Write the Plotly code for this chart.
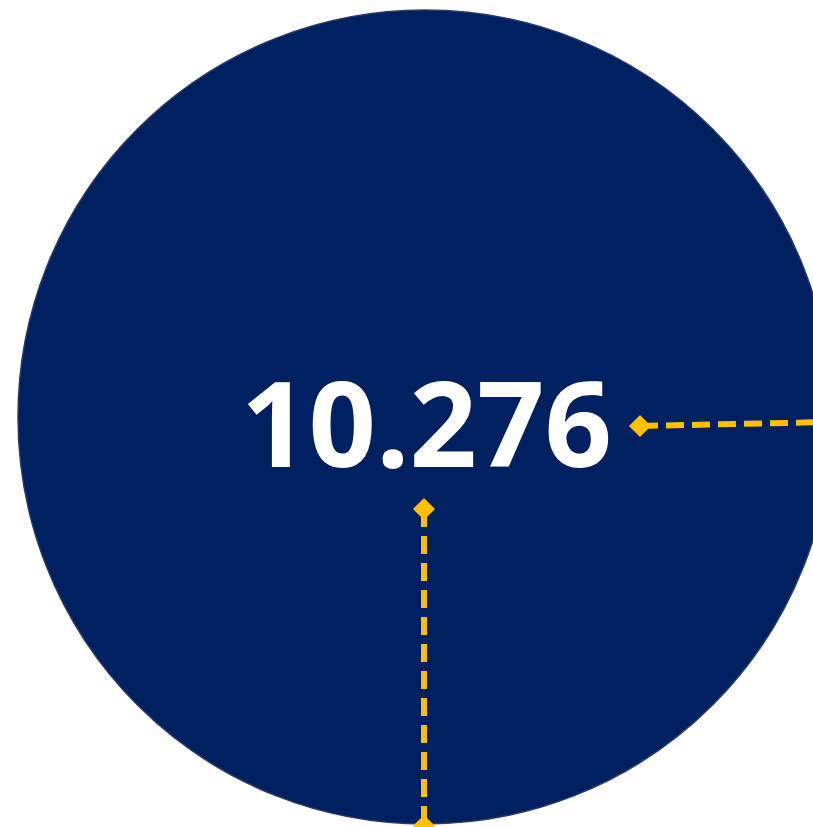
import plotly.graph_objects as go

# value shown in the bubble
value_label = "10.276"

# circle (pixel space, y downwards)
circle_center = [425, 417]
circle_radius = 407

# connector lines
h_line_x = [640, 830]
h_line_y = [426, 422]
v_line_x = [424, 424]
v_line_y = [509, 826]

navy = "#002060"
gold = "#FFC000"

fig = go.Figure()

fig.add_shape(type="circle",
              x0=circle_center[0] - circle_radius, x1=circle_center[0] + circle_radius,
              y0=circle_center[1] - circle_radius, y1=circle_center[1] + circle_radius,
              fillcolor=navy, line=dict(color="#2a3a66", width=1.5), layer="below")

fig.add_trace(go.Scatter(x=h_line_x, y=h_line_y, mode="lines+markers",
                         line=dict(color=gold, width=6, dash="18px,8px"),
                         marker=dict(symbol="diamond", size=17, color=gold),
                         hoverinfo="skip", showlegend=False))

fig.add_trace(go.Scatter(x=v_line_x, y=v_line_y, mode="lines+markers",
                         line=dict(color=gold, width=6, dash="18px,9px"),
                         marker=dict(symbol="diamond", size=17, color=gold),
                         hoverinfo="skip", showlegend=False))

fig.add_annotation(x=circle_center[0] + 1, y=421, text="<b>" + value_label + "</b>",
                   showarrow=False, xanchor="center", yanchor="middle",
                   font=dict(family="Open Sans", size=118, color="white"))

fig.update_layout(
    width=813, height=827,
    margin=dict(l=0, r=0, t=0, b=0),
    paper_bgcolor="white", plot_bgcolor="white",
    xaxis=dict(range=[0, 813], visible=False, fixedrange=True),
    yaxis=dict(range=[827, 0], visible=False, fixedrange=True),
)

# drop the browser's default body margin so the figure sits at 0,0
fig.write_html("out.html", config={"displayModeBar": False},
               post_script="document.body.style.margin='0';")
